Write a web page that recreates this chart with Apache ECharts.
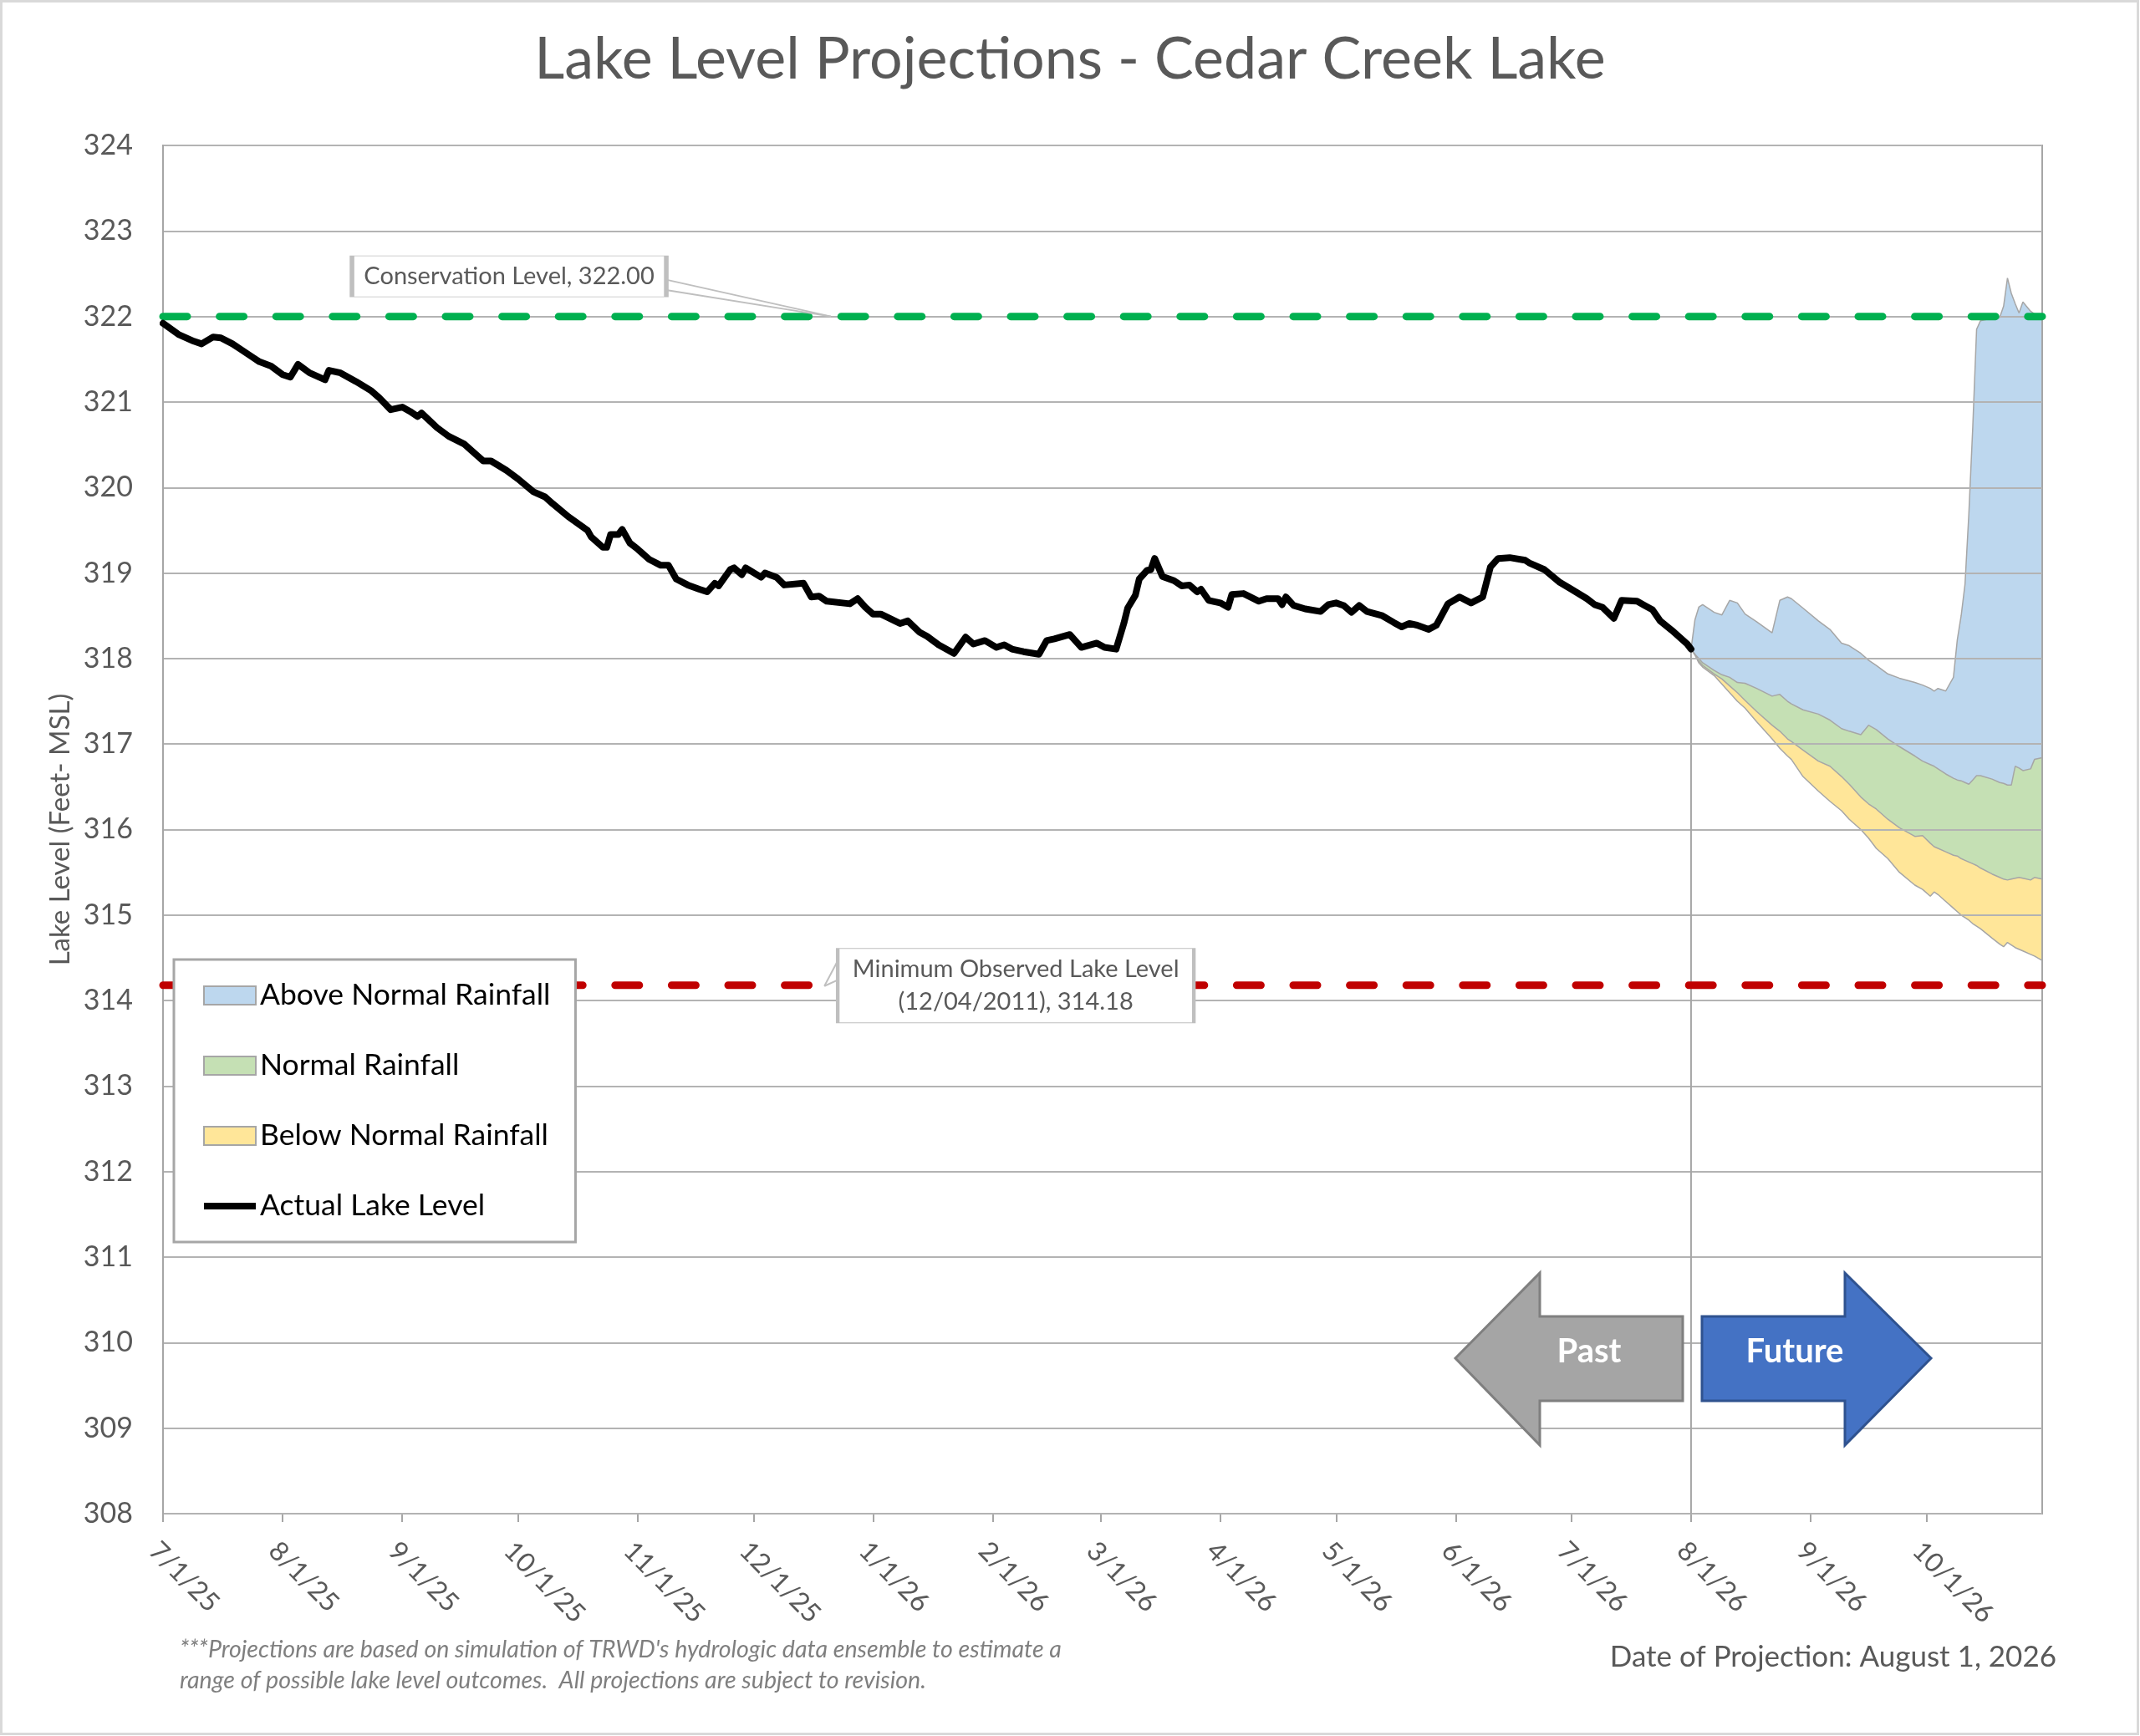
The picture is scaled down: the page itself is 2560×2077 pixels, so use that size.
<!DOCTYPE html>
<html>
  <head>
    <meta charset="utf-8" />
    <title>Lake Level Projections - Cedar Creek Lake</title>
    <script src="https://cdn.jsdelivr.net/npm/echarts@6/dist/echarts.min.js"></script>
    <style>
      body { margin: 0; background: #fff; }
    </style>
  </head>

  <body>
    <div id="main" style="width: 2560px; height: 2077px"></div>
    <script type="text/javascript">
      var myChart = echarts.init(document.getElementById("main"));

      const DAY = 86400000;
      const startDate = Date.UTC(2025, 6, 1);
      const endDate = Date.UTC(2026, 9, 31);
      function dayTime(d) {
        return startDate + d * DAY;
      }

      // observed lake level (days after 7/1/25, feet MSL)
      const actualDays = [
        0, 4, 8, 10, 13, 15, 18, 20, 23, 25, 28, 31, 33, 35, 38, 42, 43, 46, 50, 54,
        56, 59, 62, 64, 66, 67, 71, 74, 78, 80, 83, 85, 89, 92, 96, 99, 101, 105, 110, 111,
        114, 115, 116, 118, 119, 121, 123, 126, 129, 131, 133, 136, 139, 141, 143, 144, 147, 148, 150, 151,
        155, 156, 159, 161, 166, 168, 170, 172, 178, 180, 182, 184, 186, 191, 193, 196, 198, 201, 205, 208,
        210, 213, 216, 218, 220, 223, 227, 229, 231, 235, 238, 242, 244, 247, 249, 250, 252, 253, 255, 256,
        257, 259, 262, 264, 266, 268, 269, 271, 274, 276, 277, 280, 284, 286, 289, 290, 291, 293, 296, 300,
        302, 304, 306, 308, 310, 312, 316, 319, 321, 323, 325, 328, 330, 333, 336, 339, 342, 344, 346, 349,
        353, 354, 358, 362, 365, 369, 371, 373, 376, 378, 382, 384, 386, 388, 391, 395, 396
      ];
      const actualLevels = [
        321.92, 321.79, 321.71, 321.68, 321.76, 321.75, 321.68, 321.62, 321.53, 321.47, 321.42, 321.32, 321.29, 321.44, 321.34, 321.26, 321.37, 321.34, 321.24, 321.13,
        321.05, 320.91, 320.94, 320.89, 320.83, 320.87, 320.70, 320.60, 320.51, 320.43, 320.31, 320.31, 320.20, 320.10, 319.95, 319.89, 319.81, 319.66, 319.50, 319.42,
        319.30, 319.30, 319.45, 319.45, 319.51, 319.35, 319.28, 319.16, 319.09, 319.09, 318.93, 318.86, 318.81, 318.78, 318.88, 318.85, 319.04, 319.06, 318.98, 319.06,
        318.95, 319.00, 318.95, 318.86, 318.88, 318.72, 318.73, 318.67, 318.64, 318.70, 318.60, 318.52, 318.52, 318.41, 318.44, 318.31, 318.26, 318.16, 318.06, 318.25,
        318.17, 318.21, 318.13, 318.16, 318.11, 318.08, 318.05, 318.21, 318.23, 318.28, 318.13, 318.18, 318.13, 318.11, 318.41, 318.59, 318.74, 318.93, 319.03, 319.04,
        319.17, 318.96, 318.91, 318.85, 318.86, 318.78, 318.81, 318.68, 318.65, 318.60, 318.75, 318.76, 318.67, 318.70, 318.70, 318.63, 318.72, 318.62, 318.58, 318.55,
        318.63, 318.65, 318.62, 318.54, 318.62, 318.55, 318.50, 318.42, 318.37, 318.41, 318.39, 318.34, 318.39, 318.64, 318.72, 318.65, 318.72, 319.07, 319.17, 319.18,
        319.15, 319.12, 319.04, 318.89, 318.81, 318.70, 318.63, 318.60, 318.47, 318.68, 318.67, 318.62, 318.57, 318.44, 318.33, 318.17, 318.11
      ];

      // projection bands from 8/1/26 (day 396)
      const projDays = [
        396, 397, 398, 399, 402, 404, 406, 408, 410, 413, 417, 419, 421, 422, 425, 429, 432, 435, 437, 440,
        442, 444, 447, 450, 454, 456, 458, 459, 460, 462, 464, 465, 466, 467, 468, 469, 470, 471, 474, 476,
        477, 478, 479, 480, 481, 482, 484, 485, 487
      ];
      const aboveTop = [
        318.11, 318.45, 318.60, 318.63, 318.54, 318.51, 318.68, 318.65, 318.52, 318.43, 318.30, 318.68, 318.72, 318.70, 318.59, 318.44, 318.34, 318.18, 318.15, 318.06,
        317.98, 317.92, 317.82, 317.77, 317.72, 317.69, 317.65, 317.62, 317.65, 317.62, 317.78, 318.22, 318.50, 318.87, 319.70, 320.70, 321.85, 321.95, 321.98, 321.99,
        322.12, 322.45, 322.27, 322.15, 322.04, 322.17, 322.06, 322.03, 322.00
      ];
      const normalTop = [
        318.11, 318.05, 318.00, 317.95, 317.86, 317.81, 317.78, 317.72, 317.71, 317.65, 317.56, 317.58, 317.50, 317.47, 317.40, 317.35, 317.28, 317.18, 317.15, 317.11,
        317.22, 317.17, 317.06, 316.97, 316.86, 316.80, 316.76, 316.74, 316.71, 316.65, 316.60, 316.58, 316.57, 316.55, 316.53, 316.58, 316.63, 316.63, 316.59, 316.55,
        316.54, 316.52, 316.52, 316.74, 316.72, 316.69, 316.71, 316.82, 316.84
      ];
      const belowTop = [
        318.11, 318.05, 317.97, 317.92, 317.82, 317.76, 317.68, 317.60, 317.51, 317.38, 317.22, 317.15, 317.06, 317.03, 316.93, 316.80, 316.74, 316.62, 316.53, 316.38,
        316.30, 316.24, 316.12, 316.02, 315.92, 315.93, 315.84, 315.80, 315.78, 315.74, 315.70, 315.69, 315.66, 315.64, 315.62, 315.60, 315.58, 315.55, 315.48, 315.44,
        315.42, 315.41, 315.42, 315.43, 315.44, 315.43, 315.41, 315.44, 315.42
      ];
      const belowBottom = [
        318.11, 318.04, 317.95, 317.90, 317.80, 317.70, 317.60, 317.50, 317.42, 317.26, 317.06, 316.95, 316.86, 316.82, 316.62, 316.45, 316.33, 316.22, 316.12, 316.00,
        315.90, 315.78, 315.66, 315.50, 315.35, 315.30, 315.22, 315.27, 315.24, 315.16, 315.08, 315.04, 315.00, 314.97, 314.94, 314.90, 314.87, 314.84, 314.73, 314.66,
        314.63, 314.68, 314.65, 314.62, 314.60, 314.58, 314.54, 314.52, 314.47
      ];

      const conservationLevel = 322.0;
      const minObservedLevel = 314.18;
      const projectionDay = 396;

      // month starts for ticks and labels
      const monthTicks = [];
      for (let m = 6; m <= 21; m++) {
        monthTicks.push(Date.UTC(2025, m, 1));
      }

      function pairs(days, vals) {
        return days.map((d, i) => [dayTime(d), vals[i]]);
      }

      // each band is filled down to the axis, the next one painted over it
      function band(name, vals, fill, z) {
        return {
          name: name,
          type: "line",
          symbol: "none",
          z: z,
          silent: true,
          itemStyle: { color: fill },
          lineStyle: { color: "#a6a6a6", width: 1.5 },
          areaStyle: { color: fill, opacity: 1, origin: "start" },
          data: pairs(projDays, vals),
        };
      }

      option = {
        animation: false,
        backgroundColor: "#fff",
        textStyle: { fontFamily: "Lato" },
        title: {
          text: "Lake Level Projections - Cedar Creek Lake",
          left: "center",
          top: 31,
          textStyle: { fontSize: 70, fontWeight: "normal", color: "#595959", fontFamily: "Lato" },
        },
        legend: {
          orient: "vertical",
          left: 208,
          top: 1148,
          z: 10,
          selectedMode: false,
          backgroundColor: "#fff",
          borderColor: "#a6a6a6",
          borderWidth: 3,
          padding: [25, 30, 25, 35],
          itemWidth: 62,
          itemHeight: 22,
          itemGap: 48,
          textStyle: { fontSize: 35.5, lineHeight: 34, color: "#000", fontFamily: "Lato" },
          data: [
            { name: "Above Normal Rainfall", icon: "rect", itemStyle: { color: "#bdd7ee", borderColor: "#a6a6a6", borderWidth: 2 } },
            { name: "Normal Rainfall", icon: "rect", itemStyle: { color: "#c5e0b4", borderColor: "#a6a6a6", borderWidth: 2 } },
            { name: "Below Normal Rainfall", icon: "rect", itemStyle: { color: "#ffe699", borderColor: "#a6a6a6", borderWidth: 2 } },
            { name: "Actual Lake Level", icon: "path://M0,0M62,22M0,7L62,7L62,15L0,15Z", itemStyle: { color: "#000", borderWidth: 0 } },
          ],
        },
        grid: {
          left: 195,
          right: 117,
          top: 174,
          bottom: 266,
          show: true,
          z: 3,
          backgroundColor: "transparent",
          borderColor: "#a6a6a6",
          borderWidth: 2,
        },
        xAxis: {
          type: "value",
          min: startDate,
          max: endDate,
          axisLine: { lineStyle: { color: "#a6a6a6", width: 2 } },
          axisTick: { show: true, length: 10, lineStyle: { color: "#a6a6a6", width: 2 }, customValues: monthTicks },
          axisLabel: {
            customValues: monthTicks,
            rotate: -45,
            align: "left",
            verticalAlign: "top",
            margin: 28,
            fontSize: 32,
            color: "#595959",
            fontFamily: "Lato",
            formatter: function (val) {
              const d = new Date(val);
              return d.getUTCMonth() + 1 + "/" + d.getUTCDate() + "/" + String(d.getUTCFullYear()).slice(2);
            },
          },
          splitLine: { show: false },
        },
        yAxis: {
          type: "value",
          min: 308,
          max: 324,
          interval: 1,
          z: 3,
          name: "Lake Level (Feet- MSL)",
          nameLocation: "middle",
          nameGap: 106,
          nameTextStyle: { fontSize: 33, color: "#595959", fontFamily: "Lato" },
          axisLine: { show: true, lineStyle: { color: "#a6a6a6", width: 2 } },
          axisTick: { show: false },
          axisLabel: { fontSize: 34, color: "#595959", margin: 36, fontFamily: "Lato" },
          splitLine: { lineStyle: { color: "#b3b3b3", width: 2 } },
        },
        series: [
          band("Above Normal Rainfall", aboveTop, "#bdd7ee", 1),
          band("Normal Rainfall", normalTop, "#c5e0b4", 1.2),
          band("Below Normal Rainfall", belowTop, "#ffe699", 1.4),
          band("Lowest projection", belowBottom, "#ffffff", 1.6),
          {
            name: "Projection Date",
            type: "line",
            symbol: "none",
            z: 3,
            silent: true,
            lineStyle: { color: "#a6a6a6", width: 2 },
            data: [
              [dayTime(projectionDay), actualLevels[actualLevels.length - 1]],
              [dayTime(projectionDay), 308],
            ],
          },
          {
            name: "Conservation Level",
            type: "line",
            symbol: "none",
            z: 4,
            silent: true,
            lineStyle: { color: "#00b050", width: 9, type: [29, 38.6], cap: "round" },
            data: [
              [startDate, conservationLevel],
              [endDate, conservationLevel],
            ],
            markLine: {
              silent: true,
              symbol: ["none", "none"],
              label: { show: false },
              lineStyle: { color: "#bfbfbf", width: 2, type: "solid" },
              data: [
                [{ coord: [dayTime(130.4), 322.43] }, { coord: [dayTime(173.1), 322.0] }],
                [{ coord: [dayTime(130.4), 322.31] }, { coord: [dayTime(173.1), 322.0] }],
              ],
            },
            markPoint: {
              silent: true,
              symbol: "rect",
              data: [
                {
                  coord: [dayTime(89.7), 322.47],
                  symbolSize: [376, 49],
                  itemStyle: { color: "#fff", borderColor: "#bfbfbf", borderWidth: 2 },
                  label: {
                    show: true,
                    position: "inside",
                    formatter: "Conservation Level, 322.00",
                    color: "#595959",
                    fontSize: 29,
                    fontFamily: "Lato",
                  },
                },
              ],
            },
          },
          {
            name: "Minimum Observed Lake Level",
            type: "line",
            symbol: "none",
            z: 4,
            silent: true,
            lineStyle: { color: "#c00000", width: 9, type: [29, 38.6], cap: "round" },
            data: [
              [startDate, minObservedLevel],
              [endDate, minObservedLevel],
            ],
            markLine: {
              silent: true,
              symbol: ["none", "none"],
              label: { show: false },
              lineStyle: { color: "#bfbfbf", width: 2, type: "solid" },
              data: [
                [{ coord: [dayTime(174.8), 314.46] }, { coord: [dayTime(171.4), 314.17] }],
                [{ coord: [dayTime(171.4), 314.17] }, { coord: [dayTime(174.8), 314.24] }],
              ],
            },
            markPoint: {
              silent: true,
              symbol: "rect",
              data: [
                {
                  coord: [dayTime(221.0), 314.175],
                  symbolSize: [426, 89],
                  itemStyle: { color: "#fff", borderColor: "#bfbfbf", borderWidth: 2 },
                  label: {
                    show: true,
                    position: "inside",
                    formatter: "Minimum Observed Lake Level\n(12/04/2011), 314.18",
                    color: "#595959",
                    fontSize: 29,
                    lineHeight: 39,
                    fontFamily: "Lato",
                  },
                },
              ],
            },
          },
          {
            name: "Actual Lake Level",
            type: "line",
            symbol: "none",
            z: 6,
            silent: true,
            itemStyle: { color: "#000" },
            lineStyle: { color: "#000", width: 8, cap: "round", join: "round" },
            data: pairs(actualDays, actualLevels),
          },
        ],
        graphic: [
          {
            type: "rect",
            z: 0,
            silent: true,
            shape: { x: 1.5, y: 1.5, width: 2556, height: 2073 },
            style: { fill: "none", stroke: "#d9d9d9", lineWidth: 3 },
          },
          {
            type: "polygon",
            z: 10,
            silent: true,
            shape: {
              points: [
                [1741, 1625], [1842, 1523], [1842, 1575], [2013, 1575],
                [2013, 1676], [1842, 1676], [1842, 1729],
              ],
            },
            style: { fill: "#a5a5a5", stroke: "#7f7f7f", lineWidth: 3 },
          },
          {
            type: "polygon",
            z: 10,
            silent: true,
            shape: {
              points: [
                [2036, 1575], [2207, 1575], [2207, 1523], [2310, 1625],
                [2207, 1729], [2207, 1676], [2036, 1676],
              ],
            },
            style: { fill: "#4472c4", stroke: "#2f528f", lineWidth: 3 },
          },
          {
            type: "text",
            z: 11,
            silent: true,
            x: 1901,
            y: 1617,
            style: { text: "Past", fill: "#fff", fontSize: 40, fontWeight: "bold", fontFamily: "Lato", align: "center", verticalAlign: "middle" },
          },
          {
            type: "text",
            z: 11,
            silent: true,
            x: 2147,
            y: 1617,
            style: { text: "Future", fill: "#fff", fontSize: 40, fontWeight: "bold", fontFamily: "Lato", align: "center", verticalAlign: "middle" },
          },
          {
            type: "text",
            z: 11,
            silent: true,
            x: 215,
            y: 1955,
            style: {
              text:
                "***Projections are based on simulation of TRWD's hydrologic data ensemble to estimate a\nrange of possible lake level outcomes.  All projections are subject to revision.",
              fill: "#7f7f7f",
              fontSize: 28.6,
              fontStyle: "italic",
              fontFamily: "Lato",
              lineHeight: 37,
              align: "left",
              verticalAlign: "top",
            },
          },
          {
            type: "text",
            z: 11,
            silent: true,
            x: 2460,
            y: 1983,
            style: { text: "Date of Projection: August 1, 2026", fill: "#595959", fontSize: 35, fontFamily: "Lato", align: "right", verticalAlign: "middle" },
          },
        ],
      };

      myChart.setOption(option);
    </script>
  </body>
</html>
